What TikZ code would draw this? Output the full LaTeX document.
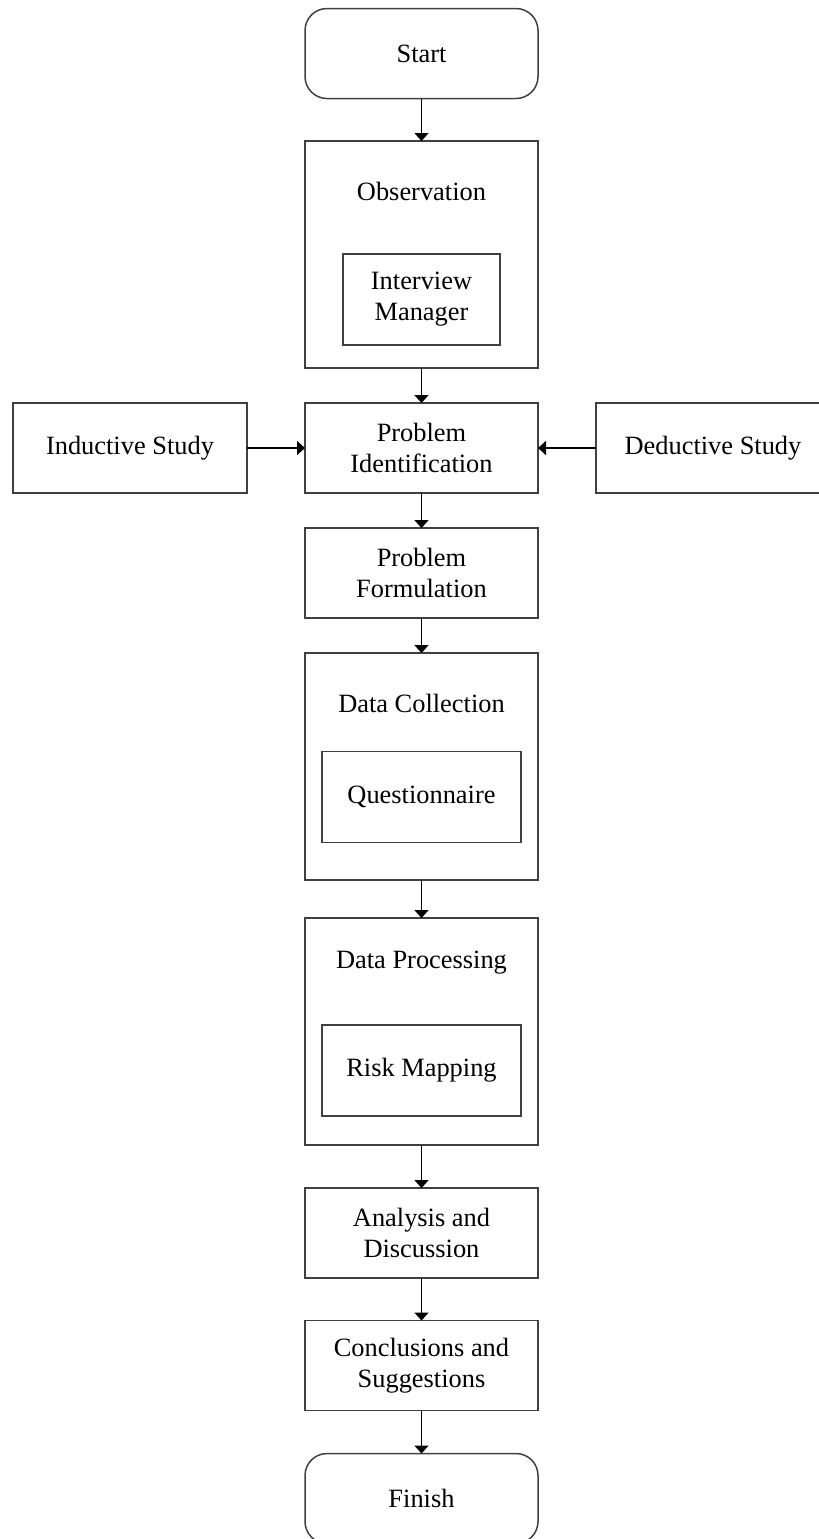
\documentclass[tikz,border=0pt]{standalone}
\usepackage{fontspec}
\setmainfont{Liberation Serif}
\usepackage{tikz}
\usetikzlibrary{shapes,arrows.meta,positioning}
\tikzstyle{block} = [rectangle,draw=black!75,line width=0.75pt,inner sep=0pt,outer sep=0pt,
  minimum width=116.5pt,minimum height=45pt,align=center,font=\fontsize{13.2}{15.5}\selectfont]
\tikzstyle{term} = [block,rounded corners=11pt]
\tikzstyle{inner} = [block,minimum height=45.5pt]
\tikzstyle{title} = [inner sep=0pt,font=\fontsize{13.2}{15.5}\selectfont]
\tikzset{>={Triangle[width=7pt,length=4pt]}}

\begin{document}
\begin{tikzpicture}[x=0.5pt,y=-0.5pt]
    \useasboundingbox (0,0) rectangle (819,1539);
    \begin{scope}
    \clip (0,0) rectangle (819,1539);
    \node [term] (start) at (421.5,53.5) {Start};
    \node [block,minimum height=113.5pt] (obs) at (421.5,254.5) {};
    \node [title] (obstitle) at (421.5,191) {Observation};
    \node [inner,minimum width=78.5pt] (intv) at (421.5,299.5) {Interview\\Manager};

    \node [block] (ident) at (421.5,448) {Problem\\Identification};
    \node [block,minimum width=117pt] (induct) at (130,448) {Inductive Study};
    \node [block,minimum width=117pt] (deduct) at (713,448) {Deductive Study};
    \node [block] (formul) at (421.5,573) {Problem\\Formulation};

    \node [block,minimum height=113.5pt] (collect) at (421.5,766.5) {};
    \node [title] (colltitle) at (421.5,703) {Data Collection};
    \node [inner,minimum width=99.5pt] (quest) at (421.5,797) {Questionnaire};

    \node [block,minimum height=113.5pt] (process) at (421.5,1031.5) {};
    \node [title] (proctitle) at (421.5,963) {Data Processing};
    \node [inner,minimum width=99.5pt] (riskmap) at (421.5,1070.5) {Risk Mapping};

    \node [block] (analys) at (421.5,1233) {Analysis and\\Discussion};
    \node [block] (concl) at (421.5,1365.5) {Conclusions and\\Suggestions};
    \node [term] (finish) at (421.5,1498.5) {Finish};
    \end{scope}

    \draw [thick,->] (start) -- (obs);
    \draw [thick,->] (obs) -- (ident);
    \draw [thick,->] (induct) -- (ident);
    \draw [thick,->] (deduct) -- (ident);
    \draw [thick,->] (ident) -- (formul);
    \draw [thick,->] (formul) -- (collect);
    \draw [thick,->] (collect) -- (process);
    \draw [thick,->] (process) -- (analys);
    \draw [thick,->] (analys) -- (concl);
    \draw [thick,->] (concl) -- (finish);
\end{tikzpicture}
\end{document}
